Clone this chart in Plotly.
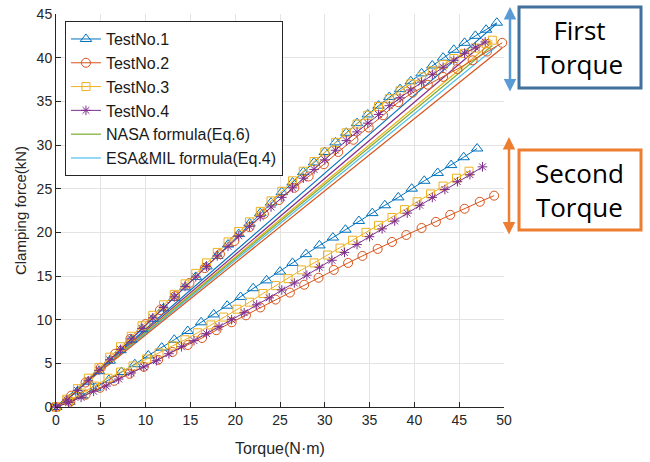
import plotly.graph_objects as go

# ---------------- data ----------------
# First torque (upper group)
t1_first_x = [0, 1.2, 2.4, 3.6, 4.8, 6.0, 7.2, 8.4, 9.6, 10.8, 12.0, 13.2, 14.4, 15.6, 16.8, 18.0, 19.2, 20.4, 21.6, 22.8,
              24.0, 25.2, 26.4, 27.6, 28.8, 30.0, 31.2, 32.4, 33.6, 34.8, 36.0, 37.2, 38.4, 39.6, 40.8, 42.0, 43.2, 44.4,
              45.6, 46.8, 48.0, 49.2]
t1_first_y = [0, 0.8, 1.8, 2.9, 4.1, 5.3, 6.5, 7.7, 8.9, 10.1, 11.3, 12.5, 13.7, 14.9, 16.1, 17.3, 18.6, 19.8, 21.0, 22.2,
              23.4, 24.6, 25.7, 26.9, 28.0, 29.2, 30.3, 31.4, 32.5, 33.5, 34.5, 35.5, 36.4, 37.3, 38.2, 39.1, 40.0, 40.9,
              41.7, 42.5, 43.2, 44.0]

t2_first_x = [0, 1.7, 3.3, 5.0, 6.6, 8.3, 10.0, 11.6, 13.3, 14.9, 16.6, 18.3, 19.9, 21.6, 23.2, 24.9, 26.6, 28.2, 29.9,
              31.5, 33.2, 34.9, 36.5, 38.2, 39.8, 41.5, 43.2, 44.8, 46.5, 48.1, 49.8]
t2_first_y = [0, 1.3, 2.8, 4.5, 6.1, 7.8, 9.5, 11.1, 12.7, 14.2, 15.9, 17.5, 19.0, 20.6, 22.1, 23.7, 25.1, 26.4, 27.8,
              29.2, 30.6, 32.0, 33.4, 34.9, 36.0, 36.9, 37.8, 38.7, 39.7, 40.7, 41.7]

t3_first_x = [0, 1.2, 2.4, 3.6, 4.8, 6.0, 7.2, 8.4, 9.6, 10.8, 12.0, 13.2, 14.4, 15.6, 16.8, 18.0, 19.2, 20.4, 21.6, 22.8,
              24.0, 25.2, 26.4, 27.6, 28.8, 30.0, 31.2, 32.4, 33.6, 34.8, 36.0, 37.2, 38.4, 39.6, 40.8, 42.0, 43.2, 44.4,
              45.6, 46.8, 48.0, 48.7]
t3_first_y = [0, 0.9, 2.1, 3.3, 4.5, 5.7, 6.9, 8.1, 9.3, 10.5, 11.7, 12.9, 14.1, 15.3, 16.5, 17.7, 18.9, 20.1, 21.2, 22.4,
              23.6, 24.7, 25.9, 27.0, 28.1, 29.2, 30.3, 31.4, 32.4, 33.4, 34.4, 35.3, 36.2, 37.0, 37.8, 38.5, 39.2, 39.9,
              40.5, 41.1, 41.6, 42.0]

t4_first_x = [0, 1.2, 2.4, 3.6, 4.8, 6.0, 7.2, 8.4, 9.6, 10.8, 12.0, 13.2, 14.4, 15.6, 16.8, 18.0, 19.2, 20.4, 21.6, 22.8,
              24.0, 25.2, 26.4, 27.6, 28.8, 30.0, 31.2, 32.4, 33.6, 34.8, 36.0, 37.2, 38.4, 39.6, 40.8, 42.0, 43.2, 44.4,
              45.6, 46.8, 47.9]
t4_first_y = [0, 0.8, 1.9, 3.0, 4.2, 5.4, 6.6, 7.8, 9.0, 10.2, 11.4, 12.6, 13.8, 14.9, 16.1, 17.3, 18.4, 19.6, 20.7, 21.8,
              22.9, 24.0, 25.1, 26.2, 27.2, 28.3, 29.4, 30.5, 31.5, 32.5, 33.5, 34.5, 35.4, 36.3, 37.2, 38.1, 38.9, 39.7,
              40.5, 41.2, 41.8]

# Second torque (lower group)
t1_second_x = [0, 1.5, 2.9, 4.4, 5.9, 7.3, 8.8, 10.3, 11.8, 13.2, 14.7, 16.2, 17.6, 19.1, 20.6, 22.0, 23.5, 25.0, 26.4,
               27.9, 29.4, 30.9, 32.3, 33.8, 35.3, 36.7, 38.2, 39.7, 41.1, 42.6, 44.1, 45.5, 47.0]
t1_second_y = [0, 0.6, 1.3, 2.2, 3.1, 4.0, 4.9, 5.9, 6.8, 7.7, 8.7, 9.7, 10.6, 11.6, 12.6, 13.6, 14.5, 15.5, 16.5,
               17.5, 18.5, 19.4, 20.3, 21.3, 22.2, 23.1, 24.0, 25.0, 25.9, 26.8, 27.7, 28.6, 29.6]

t2_second_x = [0, 1.6, 3.3, 4.9, 6.5, 8.2, 9.8, 11.4, 13.0, 14.7, 16.3, 17.9, 19.6, 21.2, 22.8, 24.5, 26.1, 27.7, 29.3,
               31.0, 32.6, 34.2, 35.9, 37.5, 39.1, 40.8, 42.4, 44.0, 45.6, 47.3, 48.9]
t2_second_y = [0, 0.6, 1.4, 2.2, 3.0, 3.8, 4.6, 5.4, 6.3, 7.1, 7.9, 8.8, 9.7, 10.5, 11.4, 12.3, 13.1, 14.0, 14.8,
               15.7, 16.5, 17.3, 18.1, 18.9, 19.7, 20.5, 21.2, 22.0, 22.7, 23.5, 24.2]

t3_second_x = [0, 1.4, 2.9, 4.3, 5.8, 7.2, 8.6, 10.1, 11.5, 13.0, 14.4, 15.8, 17.3, 18.7, 20.2, 21.6, 23.1, 24.5, 25.9,
               27.4, 28.8, 30.3, 31.7, 33.1, 34.6, 36.0, 37.5, 38.9, 40.3, 41.8, 43.2, 44.7, 46.1]
t3_second_y = [0, 0.7, 1.6, 2.4, 3.3, 4.0, 4.7, 5.5, 6.2, 7.0, 7.7, 8.5, 9.4, 10.3, 11.2, 12.0, 13.0, 13.9, 14.7,
               15.7, 16.5, 17.4, 18.2, 19.1, 20.0, 20.8, 21.7, 22.6, 23.5, 24.4, 25.3, 26.2, 27.0]

t4_second_x = [0, 1.4, 2.8, 4.2, 5.6, 7.0, 8.4, 9.8, 11.2, 12.6, 14.0, 15.4, 16.8, 18.2, 19.6, 21.0, 22.4, 23.8, 25.2,
               26.6, 28.0, 29.4, 30.8, 32.2, 33.6, 35.0, 36.4, 37.8, 39.2, 40.6, 42.0, 43.4, 44.8, 46.2, 47.6]
t4_second_y = [0, 0.5, 1.1, 1.8, 2.4, 3.2, 3.9, 4.6, 5.3, 6.1, 6.9, 7.6, 8.4, 9.2, 10.0, 10.8, 11.7, 12.5, 13.4,
               14.2, 15.1, 16.0, 16.8, 17.7, 18.6, 19.5, 20.4, 21.3, 22.2, 23.1, 24.0, 24.9, 25.8, 26.6, 27.5]

# Formula lines (start, end)
formula_names = ["TestNo.1 formula", "TestNo.4 formula", "TestNo.3 formula",
                 "NASA formula(Eq.6)", "ESA&MIL formula(Eq.4)", "TestNo.2 formula"]
formula_x = [[0, 49.2], [0, 47.8], [0, 48.7], [0, 48.7], [0, 49.2], [0, 49.8]]
formula_y = [[0, 43.9], [0, 41.7], [0, 41.8], [0, 41.4], [0, 41.3], [0, 41.1]]
formula_in_legend = [False, False, False, True, True, False]

test_names = ["TestNo.1", "TestNo.2", "TestNo.3", "TestNo.4"]
x_ticks = [0, 5, 10, 15, 20, 25, 30, 35, 40, 45, 50]
y_ticks = [0, 5, 10, 15, 20, 25, 30, 35, 40, 45]

# ---------------- styles ----------------
BLUE, ORANGE, YELLOW, PURPLE, GREEN, CYAN = "#0072BD", "#D95319", "#EDB120", "#7E2F8E", "#77AC30", "#4DBEEE"
test_colors = [BLUE, ORANGE, YELLOW, PURPLE]
test_symbols = ["triangle-up-open", "circle-open", "square-open", "asterisk-open"]
test_sizes = [10, 9, 8, 8]
formula_colors = [BLUE, PURPLE, YELLOW, GREEN, CYAN, ORANGE]
AX = "#262626"
FONT = "Liberation Sans, Arial, sans-serif"
BOXFONT = "Open Sans, Noto Sans, sans-serif"

fig = go.Figure()

for i in range(len(formula_names)):
    fig.add_trace(go.Scatter(
        x=formula_x[i], y=formula_y[i], mode="lines", name=formula_names[i],
        line=dict(color=formula_colors[i], width=1.2), showlegend=formula_in_legend[i],
        legendrank=1000 + i, cliponaxis=False))

firsts = [(t1_first_x, t1_first_y), (t2_first_x, t2_first_y), (t3_first_x, t3_first_y), (t4_first_x, t4_first_y)]
seconds = [(t1_second_x, t1_second_y), (t2_second_x, t2_second_y), (t3_second_x, t3_second_y),
           (t4_second_x, t4_second_y)]

for i in range(4):
    for k, (xs, ys) in enumerate([firsts[i], seconds[i]]):
        fig.add_trace(go.Scatter(
            x=xs, y=ys, mode="lines+markers", name=test_names[i],
            legendgroup=test_names[i], showlegend=(k == 0), legendrank=100 + i,
            line=dict(color=test_colors[i], width=1),
            marker=dict(symbol=test_symbols[i], size=test_sizes[i], color=test_colors[i],
                        line=dict(color=test_colors[i], width=1)),
            cliponaxis=False))

axis_common = dict(showline=True, linecolor=AX, linewidth=1, ticks="inside", ticklen=5, tickcolor=AX,
                   showgrid=True, gridcolor="#E3E3E3", gridwidth=1, zeroline=False, mirror=False,
                   automargin=False, tickfont=dict(family=FONT, size=14, color=AX))

fig.update_layout(
    width=650, height=462,
    margin=dict(l=56, r=146, t=14, b=55),
    paper_bgcolor="white", plot_bgcolor="white",
    font=dict(family=FONT, color=AX),
    xaxis=dict(range=[0, 50], tickvals=x_ticks,
               title=dict(text="Torque(N·m)", font=dict(size=16, family=FONT, color=AX), standoff=16),
               **axis_common),
    yaxis=dict(range=[0, 45], tickvals=y_ticks,
               title=dict(text="Clamping force(kN)", font=dict(size=15, family=FONT, color=AX), standoff=6),
               **axis_common),
    legend=dict(x=0.02, y=0.982, xanchor="left", yanchor="top", bgcolor="white", bordercolor=AX, borderwidth=1,
                font=dict(family=FONT, size=16, color="#1a1a1a"), itemwidth=30, tracegroupgap=0),
    showlegend=True,
)

# Boxes with labels to the right of the plot
fig.add_shape(type="rect", xref="paper", yref="paper", x0=1.0335, x1=1.3058, y0=0.8117, y1=1.0178,
              line=dict(color="#41719C", width=3), fillcolor="white")
fig.add_shape(type="rect", xref="paper", yref="paper", x0=1.0335, x1=1.3058, y0=0.4504, y1=0.654,
              line=dict(color="#ED7D31", width=3), fillcolor="white")
fig.add_annotation(xref="paper", yref="paper", x=1.1696, y=0.9148, xanchor="center", yanchor="middle",
                   text="First<br>Torque", showarrow=False,
                   font=dict(family=BOXFONT, size=26, color="black"))
fig.add_annotation(xref="paper", yref="paper", x=1.1696, y=0.5522, xanchor="center", yanchor="middle",
                   text="Second<br>Torque", showarrow=False,
                   font=dict(family=BOXFONT, size=26, color="black"))

# Double-headed arrows
fig.add_annotation(xref="paper", yref="paper", x=1.0134, y=1.0178, ax=0, ay=86, text="", showarrow=True,
                   arrowhead=2, startarrowhead=2, arrowside="end+start", arrowsize=1, arrowwidth=2.5,
                   arrowcolor="#5B9BD5")
fig.add_annotation(xref="paper", yref="paper", x=1.0112, y=0.687, ax=0, ay=99, text="", showarrow=True,
                   arrowhead=2, startarrowhead=2, arrowside="end+start", arrowsize=1, arrowwidth=2.5,
                   arrowcolor="#ED7D31")

fig.write_html("out.html")
